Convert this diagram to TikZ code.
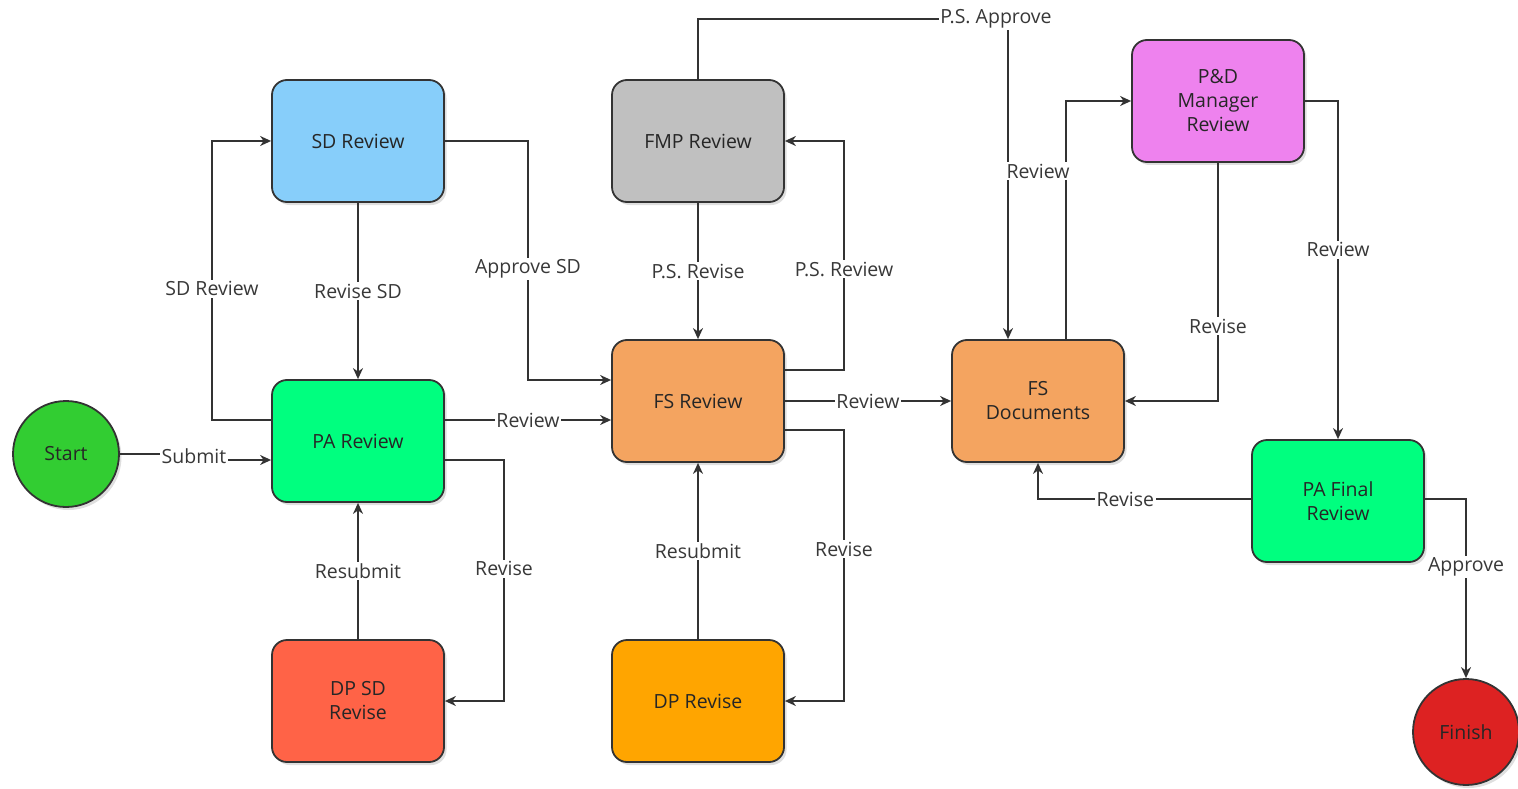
\documentclass[tikz,border=0pt]{standalone}
\usepackage{fontspec}
\setmainfont{Open Sans}
\usetikzlibrary{arrows.meta,shadows,positioning}
\definecolor{sdblue}{HTML}{87CEFA}
\definecolor{pagreen}{HTML}{00FF7F}
\definecolor{dptomato}{HTML}{FF6347}
\definecolor{fmpgray}{HTML}{C0C0C0}
\definecolor{fssandy}{HTML}{F4A460}
\definecolor{dporange}{HTML}{FFA500}
\definecolor{pdviolet}{HTML}{EE82EE}
\definecolor{startgreen}{HTML}{32CD32}
\definecolor{finishred}{HTML}{DD2222}
\definecolor{lineclr}{HTML}{333333}
\tikzset{
  box/.style={draw=lineclr, line width=1.8pt, rounded corners=15pt,
    minimum width=172pt, minimum height=122pt, align=center,
    font=\fontsize{19.5}{24}\selectfont, text=black!85,
    drop shadow={shadow xshift=2.5pt, shadow yshift=-3pt, opacity=0.25}},
  endpt/.style={draw=lineclr, line width=1.8pt, circle, minimum size=106pt,
    font=\fontsize{19.5}{24}\selectfont, text=black!85,
    drop shadow={shadow xshift=2.5pt, shadow yshift=-3pt, opacity=0.25}},
  edge/.style={draw=lineclr, line width=1.5pt,
    -{Stealth[length=11pt,width=10pt,inset=3.5pt]}},
  lab/.style={fill=white, inner sep=1.5pt, text=black!78,
    font=\fontsize{19.5}{22}\selectfont}
}
\begin{document}
\begin{tikzpicture}[x=1pt,y=-1pt]
\useasboundingbox (0,0) rectangle (1518,789);
% nodes
\node[endpt, fill=startgreen] (Start) at (66,454) {Start};
\node[box, fill=sdblue] (SD) at (358,141) {SD Review};
\node[box, fill=pagreen] (PA) at (358,441) {PA Review};
\node[box, fill=dptomato] (DPSD) at (358,701) {DP SD\\Revise};
\node[box, fill=fmpgray] (FMP) at (698,141) {FMP Review};
\node[box, fill=fssandy] (FS) at (698,401) {FS Review};
\node[box, fill=dporange] (DPR) at (698,701) {DP Revise};
\node[box, fill=fssandy] (FSD) at (1038,401) {FS\\Documents};
\node[box, fill=pdviolet] (PDM) at (1218,101) {P\&D\\Manager\\Review};
\node[box, fill=pagreen] (PAF) at (1338,501) {PA Final\\Review};
\node[endpt, fill=finishred] (Finish) at (1466,732) {Finish};
% edges
\draw[edge] (Start.east) -- (194,454) -- (194,460) -- ([yshift=-19pt]PA.west)
  node[lab] at (194,456) {Submit};
\draw[edge] ([yshift=21pt]PA.west) -- (212,420) -- node[lab,pos=0.47]{SD Review} (212,141) -- (SD.west);
\draw[edge] (SD.south) -- node[lab]{Revise SD} (PA.north);
\draw[edge] (SD.east) -- (528,141) -- node[lab,pos=0.536]{Approve SD} (528,380) -- ([yshift=21pt]FS.west);
\draw[edge] ([yshift=21pt]PA.east) -- node[lab]{Review} ([yshift=-19pt]FS.west);
\draw[edge] ([yshift=-19pt]PA.east) -- (504,460) -- node[lab,pos=0.452]{Revise} (504,701) -- (DPSD.east);
\draw[edge] (DPSD.north) -- node[lab]{Resubmit} (PA.south);
\draw[edge] (FMP.south) -- node[lab]{P.S. Revise} (FS.north);
\draw[edge] ([yshift=31pt]FS.east) -- (844,370) -- node[lab,pos=0.44]{P.S. Review} (844,141) -- (FMP.east);
\draw[edge] ([yshift=-29pt]FS.east) -- (844,430) -- node[lab,pos=0.44]{Revise} (844,701) -- (DPR.east);
\draw[edge] (DPR.north) -- node[lab]{Resubmit} (FS.south);
\draw[edge] (FS.east) -- node[lab]{Review} (FSD.west);
\draw[edge] (FMP.north) -- (698,19) -- (1008,19) -- ([xshift=-30pt]FSD.north)
  node[lab] at (996,19) {P.S. Approve};
\draw[edge] ([xshift=28pt]FSD.north) -- (1066,101) -- (PDM.west)
  node[lab] at (1038,171) {Review};
\draw[edge] (PDM.south) -- node[lab,pos=0.685]{Revise} (1218,401) -- (FSD.east);
\draw[edge] (PDM.east) -- (1338,101) -- node[lab,pos=0.44]{Review} (PAF.north);
\draw[edge] ([yshift=2pt]PAF.west) -- node[lab,pos=0.59]{Revise} (1038,499) -- (FSD.south);
\draw[edge] ([yshift=2pt]PAF.east) -- (1466,499) -- node[lab,pos=0.38]{Approve} (Finish.north);
\end{tikzpicture}
\end{document}
